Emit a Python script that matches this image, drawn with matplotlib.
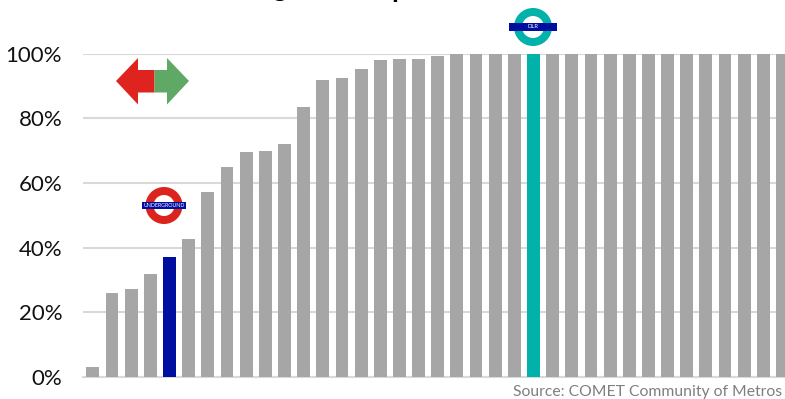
import matplotlib
matplotlib.use("Agg")
import matplotlib.pyplot as plt
from matplotlib.patches import Circle, Rectangle, Polygon

W, H = 785, 399
values = [3.1, 26, 27.1, 31.8, 37, 42.6, 57.2, 64.9, 69.6, 69.9, 72, 83.6, 92, 92.4, 95.2, 98.1, 98.5, 98.5, 99.4] + [100] * 18
highlights = {4: "#000F9F", 23: "#00B2A9"}
ticks = [0, 20, 40, 60, 80, 100]
tick_labels = ["0%", "20%", "40%", "60%", "80%", "100%"]
source = "Source: COMET Community of Metros"

plt.rcParams["font.family"] = ["Lato", "DejaVu Sans"]
fig = plt.figure(figsize=(W / 100, H / 100), dpi=100)
ax = fig.add_axes([83 / W, 1 - 376.7 / H, (W - 83) / W, (376.7 - 53.7) / H])
ax.set_xlim(-0.517, 36.13)
ax.set_ylim(0, 100)
colors = [highlights.get(i, "#A6A6A6") for i in range(len(values))]
ax.bar(range(len(values)), values, width=0.67, color=colors, zorder=3)
ax.set_yticks(ticks, tick_labels, fontsize=16, color="#111111")
ax.set_xticks([])
ax.grid(axis="y", color="#D9D9D9", lw=1.5, zorder=0)
ax.tick_params(axis="y", length=0, pad=15)
for s in ["top", "right", "left"]:
    ax.spines[s].set_visible(False)
ax.spines["bottom"].set_color("#D9D9D9")
ax.spines["bottom"].set_linewidth(1.5)

# overlay in pixel coordinates
ov = fig.add_axes([0, 0, 1, 1], facecolor="none")
ov.set_xlim(0, W)
ov.set_ylim(H, 0)
ov.axis("off")

def roundel(cx, cy, r, ring, bar_w, label, fs):
    width = 8
    ov.add_patch(Circle((cx, cy), r - width / 2, fill=False, ec=ring, lw=width * 0.72))
    ov.add_patch(Rectangle((cx - bar_w / 2, cy - 3.7), bar_w, 7.4, color="#000F9F", lw=0))
    ov.text(cx, cy, label, color="white", fontsize=fs, ha="center", va="center")

roundel(164, 205.5, 18.5, "#DC241F", 44, "UNDERGROUND", 3.8)
roundel(533, 27, 19, "#00B2A9", 48, "DLR", 4.2)

ov.add_patch(Polygon([(154.5, 70), (138, 70), (138, 58), (116, 81), (138, 104.5), (138, 92.5), (154.5, 92.5)], color="#DF2420", lw=0))
ov.add_patch(Polygon([(154.5, 70), (167, 70), (167, 58), (189, 81), (167, 104.5), (167, 92.5), (154.5, 92.5)], color="#5FA865", lw=0))

ov.text(782, 392, source, fontsize=11.3, color="#7F7F7F", ha="right", va="center")
ov.text(280, -4, "g", fontsize=20, weight="bold", color="black", ha="center", va="baseline", clip_on=False)
ov.text(399, -3, "p", fontsize=20, weight="bold", color="black", ha="center", va="baseline", clip_on=False)
fig.savefig("out.png", dpi=100)
